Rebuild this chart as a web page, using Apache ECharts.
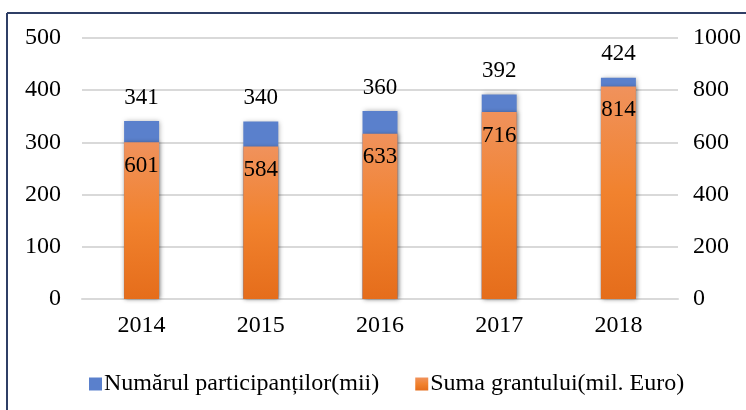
<!DOCTYPE html>
<html>
<head>
<meta charset="utf-8">
<script src="https://cdn.jsdelivr.net/npm/echarts@6/dist/echarts.min.js"></script>
<style>
  html, body { margin: 0; padding: 0; background: #fff; }
  #chart { width: 746px; height: 410px; }
</style>
</head>
<body>
<div id="chart"></div>
<script>
// date din grafic
const years = ['2014', '2015', '2016', '2017', '2018'];
const participanti = [341, 340, 360, 392, 424]; // mii
const grant = [601, 584, 633, 716, 814]; // mil. Euro
const leftTicks = [0, 500, 100];
const rightTicks = [0, 1000, 200];

const font = '"Liberation Serif", "DejaVu Serif", serif';

const chart = echarts.init(document.getElementById('chart'));

const option = {
  animation: false,
  backgroundColor: '#fff',
  textStyle: { fontFamily: font },
  graphic: [
    // rama albastra inchis
    { type: 'line', shape: { x1: 7, y1: 13, x2: 746, y2: 13 }, style: { stroke: '#2f3f66', lineWidth: 2 } },
    { type: 'line', shape: { x1: 7, y1: 13, x2: 7, y2: 410 }, style: { stroke: '#2f3f66', lineWidth: 2 } }
  ],
  legend: {
    top: 367,
    left: 84,
    itemWidth: 13,
    itemHeight: 13,
    itemGap: 36,
    icon: 'rect',
    textStyle: { fontFamily: font, fontSize: 24, color: '#000', padding: [0, 0, 0, -3] },
    data: ['Numărul participanților(mii)', 'Suma grantului(mil. Euro)']
  },
  grid: { left: 82, right: 68, top: 38, bottom: 111 },
  xAxis: {
    type: 'category',
    data: years,
    axisLine: { lineStyle: { color: '#d9d9d9', width: 2 } },
    axisTick: { show: false },
    axisLabel: { fontFamily: font, fontSize: 24, color: '#000', margin: 15 }
  },
  yAxis: [
    {
      type: 'value',
      min: leftTicks[0], max: leftTicks[1], interval: leftTicks[2],
      axisLine: { show: false },
      axisTick: { show: false },
      splitLine: { lineStyle: { color: '#d9d9d9', width: 2 } },
      axisLabel: { fontFamily: font, fontSize: 24, color: '#000', margin: 21 }
    },
    {
      type: 'value',
      min: rightTicks[0], max: rightTicks[1], interval: rightTicks[2],
      axisLine: { show: false },
      axisTick: { show: false },
      splitLine: { show: false },
      axisLabel: {
        fontFamily: font, fontSize: 24, color: '#000', margin: 15,
        formatter: v => String(v)
      }
    }
  ],
  series: [
    {
      name: 'Numărul participanților(mii)',
      type: 'bar',
      yAxisIndex: 0,
      data: participanti,
      barWidth: 35,
      barGap: '-100%',
      itemStyle: {
        color: '#5a80cc',
        shadowColor: 'rgba(0,0,0,0.35)',
        shadowBlur: 5,
        shadowOffsetX: 1
      },
      label: {
        show: true,
        position: 'top',
        distance: 12,
        fontFamily: font,
        fontSize: 23,
        color: '#000'
      },
      z: 2
    },
    {
      name: 'Suma grantului(mil. Euro)',
      type: 'bar',
      yAxisIndex: 1,
      data: grant,
      barWidth: 35,
      barGap: '-100%',
      itemStyle: {
        color: new echarts.graphic.LinearGradient(0, 0, 0, 1, [
          { offset: 0, color: '#f0925c' },
          { offset: 0.5, color: '#f1822e' },
          { offset: 1, color: '#e56d1b' }
        ]),
        shadowColor: 'rgba(0,0,0,0.3)',
        shadowBlur: 4,
        shadowOffsetX: 1
      },
      label: {
        show: true,
        position: 'insideTop',
        distance: 12,
        fontFamily: font,
        fontSize: 23,
        color: '#000'
      },
      z: 3
    }
  ]
};

chart.setOption(option);
</script>
</body>
</html>
